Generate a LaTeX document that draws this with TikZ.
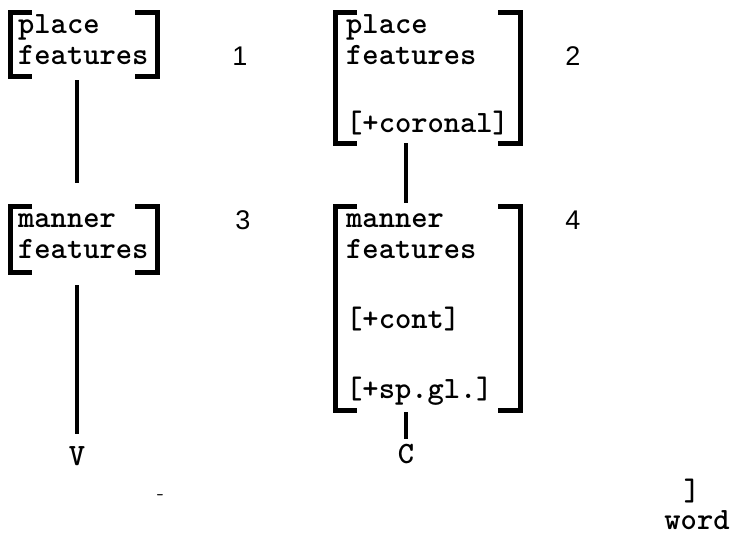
\documentclass[tikz,border=0pt]{standalone}
\usepackage{fontspec}
\newfontfamily\numfont{Liberation Sans}
\usetikzlibrary{positioning}

\begin{document}
\begin{tikzpicture}[x=1pt, y=-1pt,
  fmat/.style={anchor=base west, text width=131pt, align=left, inner xsep=8pt, inner ysep=0pt,
    text height=20pt, font=\ttfamily\bfseries\fontsize{31}{31}\selectfont},
  wide/.style={text width=163pt, inner xsep=11pt},
  tw/.style={font=\ttfamily\bfseries\fontsize{31}{31}\selectfont, inner sep=2pt, anchor=base},
  num/.style={font=\numfont\fontsize{27}{30}\selectfont, anchor=base},
  brk/.style={line width=5pt},
  link/.style={line width=4pt}]
  \useasboundingbox (0,0) rectangle (732,536);
  % feature matrices
  \node[fmat, text depth=43pt] (f1) at (10,33) {place\\features};
  \node[fmat, wide, text depth=110pt] (f2) at (335,33) {place\\features\\[37pt]{[}+coronal{]}};
  \node[fmat, text depth=45pt] (f3) at (10,227) {manner\\features};
  \node[fmat, wide, text depth=183pt] (f4) at (335,227) {manner\\features\\[39pt]{[}+cont{]}\\[39pt]{[}+sp.gl.{]}};
  \foreach \n in {f1,f2,f3,f4} {
    \draw[brk] ([xshift=22pt]\n.north west) -| (\n.south west) -- ++(22pt,0);
    \draw[brk] ([xshift=-22pt]\n.north east) -- (\n.north east) |- ([xshift=-22pt]\n.south east);
  }
  \node[num] (n1) at (240,65) {1};
  \node[num] (n2) at (573,65) {2};
  \node[num] (n3) at (243,229) {3};
  \node[num] (n4) at (573,229) {4};
  % segments
  \node[tw] (V) at (77,465) {V};
  \node[tw] (C) at (406,463) {C};
  \node[tw] (wb) at (692,500) {]};
  \node[tw, inner sep=0pt] (word) at (697,529) {word};
  \node[font=\ttfamily\bfseries\fontsize{14}{14}\selectfont] (dash) at (160,497) {-};
  \draw[link, shorten <=4pt, shorten >=24pt] (f1.south -| V) -- (f3.north -| V);
  \draw[link, shorten <=13pt, shorten >=10pt] (f3.south -| V) -- (V);
  \draw[link, shorten >=4pt] (f2.south -| C) -- (f4.north -| C);
  \draw[link, shorten <=2pt, shorten >=3pt] (f4.south -| C) -- (C);
\end{tikzpicture}
\end{document}
